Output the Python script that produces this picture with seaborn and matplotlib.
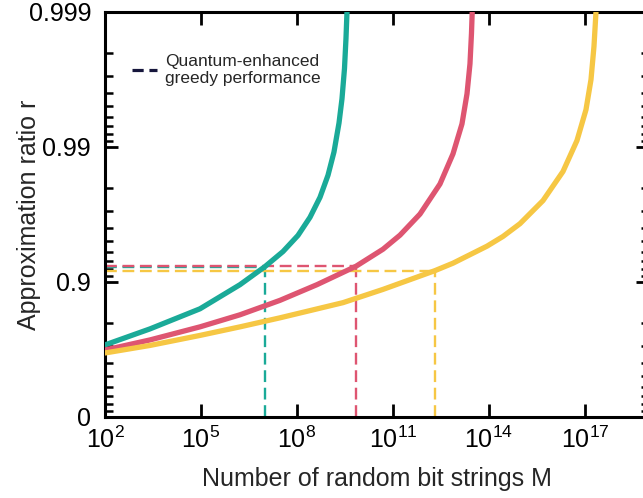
import numpy as np
import pandas as pd
import matplotlib
matplotlib.use("Agg")
import matplotlib.pyplot as plt
from matplotlib.lines import Line2D
from matplotlib.ticker import FixedLocator, FixedFormatter, NullLocator
import seaborn as sns


# ── Data ──────────────────────────────────────────────────────────────────────
# exponents of M (M = 10**x) and approximation ratio r
TEAL_LOGM = [2.0, 3.406, 4.969, 6.219, 7.0, 7.563, 8.031, 8.406, 8.719, 8.969,
             9.156, 9.313, 9.406, 9.484, 9.531, 9.563, 9.581]
TEAL_R    = [0.7074, 0.7774, 0.842, 0.8953, 0.9231, 0.9405, 0.9548, 0.9668,
             0.9764, 0.9838, 0.9891, 0.99336, 0.9956, 0.99737, 0.99843,
             0.99901, 0.99944]

RED_LOGM = [2.0, 3.406, 4.969, 6.219, 7.469, 8.625, 9.844, 10.688, 11.219,
            11.844, 12.469, 12.875, 13.156, 13.313, 13.406, 13.453, 13.475,
            13.494]
RED_R    = [0.681, 0.7313, 0.785, 0.825, 0.8632, 0.8953, 0.9235, 0.9428, 0.955,
            0.9686, 0.9812, 0.98875, 0.99325, 0.99596, 0.99758, 0.99856,
            0.99899, 0.99944]

YELLOW_LOGM = [2.0, 3.406, 4.969, 6.219, 7.469, 9.438, 10.688, 12.313, 12.875,
               13.938, 14.438, 14.969, 15.688, 16.313, 16.75, 17.031, 17.188,
               17.281, 17.344, 17.369]
YELLOW_R    = [0.6643, 0.7048, 0.7512, 0.785, 0.8157, 0.8577, 0.8865, 0.9176,
               0.9274, 0.9457, 0.954, 0.963, 0.97504, 0.98481, 0.99104, 0.9947,
               0.99683, 0.9982, 0.999, 0.99942]

# quantum-enhanced greedy performance (dashed guides)
GUIDE_LOGM = [7.0, 9.844, 12.313]
GUIDE_R    = [0.9231, 0.9235, 0.9176]

SERIES = ["teal", "red", "yellow"]
COLORS = {"teal": "#1AAA98", "red": "#DE5571", "yellow": "#F6C744"}
LEGEND_COLOR = "#16163C"

X_TICK_EXP = [2, 5, 8, 11, 14, 17]
Y_TICKS = [0, 0.9, 0.99, 0.999]
Y_TICK_LABELS = ["0", "0.9", "0.99", "0.999"]
Y_MINOR = ([0.1, 0.2, 0.3, 0.4, 0.5, 0.6, 0.7, 0.8]
           + [0.91, 0.92, 0.93, 0.94, 0.95, 0.96, 0.97, 0.98]
           + [0.991, 0.992, 0.993, 0.994, 0.995, 0.996, 0.997, 0.998])


# ── Style ─────────────────────────────────────────────────────────────────────
sns.set_theme(style="ticks")
plt.rcParams["font.family"] = ["Liberation Sans", "DejaVu Sans"]
plt.rcParams["mathtext.fontset"] = "custom"
plt.rcParams["mathtext.rm"] = "Liberation Sans"
plt.rcParams["mathtext.default"] = "regular"


def fwd(r):
    r = np.clip(np.asarray(r, dtype=float), -1e9, 1 - 1e-12)
    return -np.log10(1 - r)


def inv(t):
    return 1 - 10.0 ** (-np.asarray(t, dtype=float))


# ── Frame ─────────────────────────────────────────────────────────────────────
df = pd.concat([
    pd.DataFrame({"M": 10.0 ** np.array(TEAL_LOGM), "r": TEAL_R, "series": "teal"}),
    pd.DataFrame({"M": 10.0 ** np.array(RED_LOGM), "r": RED_R, "series": "red"}),
    pd.DataFrame({"M": 10.0 ** np.array(YELLOW_LOGM), "r": YELLOW_R, "series": "yellow"}),
], ignore_index=True)

fig = plt.figure(figsize=(6.43, 4.98), dpi=100)
ax = fig.add_axes([0.1633, 0.1627, 0.846, 0.8133])
ax.set_xscale("log")
ax.set_yscale("function", functions=(fwd, inv))
ax.set_xlim(1e2, 1e19)
ax.set_ylim(0, 0.999)

# dashed guides
x0 = 1e2
for s, lm, r in zip(SERIES, GUIDE_LOGM, GUIDE_R):
    m = 10.0 ** lm
    ax.plot([x0, m], [r, r], color=COLORS[s], lw=1.7, dashes=(5, 2.4), zorder=2)
    ax.plot([m, m], [0, r], color=COLORS[s], lw=1.7, dashes=(5, 2.4), zorder=2)

sns.lineplot(data=df, x="M", y="r", hue="series", palette=COLORS,
             hue_order=SERIES, estimator=None, sort=False, lw=3.8,
             solid_joinstyle="round", legend=False, ax=ax, zorder=3)

# ── Axes cosmetics ────────────────────────────────────────────────────────────
ax.xaxis.set_major_locator(FixedLocator([10.0 ** e for e in X_TICK_EXP]))
ax.xaxis.set_major_formatter(FixedFormatter([f"$10^{{{e}}}$" for e in X_TICK_EXP]))
ax.xaxis.set_minor_locator(NullLocator())
ax.yaxis.set_major_locator(FixedLocator(Y_TICKS))
ax.yaxis.set_major_formatter(FixedFormatter(Y_TICK_LABELS))
ax.yaxis.set_minor_locator(FixedLocator(Y_MINOR))

for sp in ax.spines.values():
    sp.set_linewidth(2.2)
    sp.set_color("black")
    sp.set_visible(True)

ax.tick_params(which="major", direction="in", length=9.5, width=2,
               top=True, right=True, labelsize=18, colors="black")
ax.tick_params(which="minor", direction="in", length=6, width=1.8,
               top=True, right=True, colors="black")
ax.tick_params(axis="x", pad=7)
ax.tick_params(axis="y", pad=10)
ax.grid(False)

ax.set_xlabel("Number of random bit strings M", fontsize=18, labelpad=10)
ax.set_ylabel("Approximation ratio r", fontsize=18)
ax.yaxis.set_label_coords(-0.118, 0.5)

handle = Line2D([], [], color=LEGEND_COLOR, lw=2.3, dashes=(3.5, 1.8))
ax.legend(handles=[handle], labels=["Quantum-enhanced\ngreedy performance"],
          loc="upper left", bbox_to_anchor=(0.049, 0.897), frameon=False,
          fontsize=12.5, handlelength=1.45, handletextpad=0.45,
          borderpad=0, borderaxespad=0, labelspacing=0)

fig.savefig("out.png", dpi=100)
